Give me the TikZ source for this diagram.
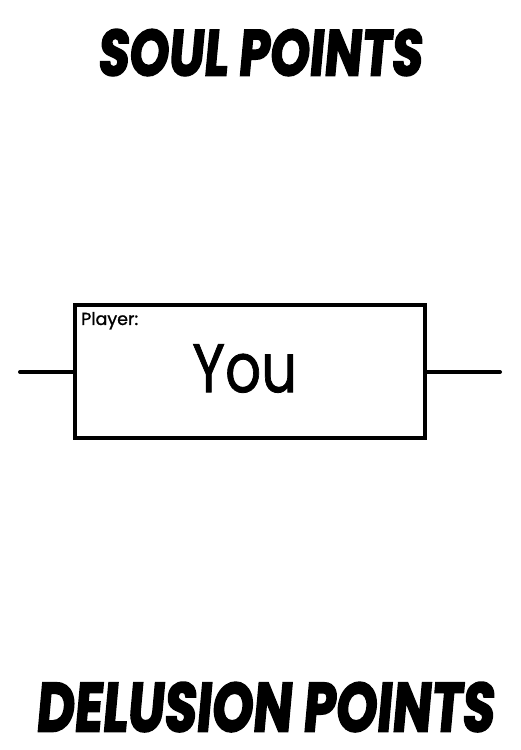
\documentclass[tikz,border=0pt]{standalone}
\usepackage{fontspec}
\setmainfont{Poppins}
\newfontfamily\brush{Poppins}[FakeBold=3,FakeSlant=0.12]
\newfontfamily\comic{Poppins}[FakeBold=1.2]
\begin{document}
\begin{tikzpicture}[x=1pt,y=1pt,
  title/.style={inner sep=0pt,anchor=south west},
  playerbox/.style={draw=black,line width=4pt,minimum width=350pt,minimum height=133pt,inner sep=0pt,fill=white},
  wire/.style={draw=black,line width=4pt,line cap=round},
  label/.style={inner sep=0pt}]
\useasboundingbox (0,0) rectangle (520,750);
\fill[white] (0,0) rectangle (520,750);
% titles
\node[title] (soul) at (97,750-76) {\resizebox{324pt}{46pt}{\brush\bfseries SOUL POINTS}};
\node[title] (delusion) at (35,750-732) {\resizebox{458pt}{49pt}{\brush\bfseries DELUSION POINTS}};
% box
\node[playerbox] (box) at (250,750-372) {};
\coordinate (lend) at (20,750-372);
\coordinate (rend) at (500,750-372);
\draw[wire] (lend) -- (box.west);
\draw[wire] (box.east) -- (rend);
\node[label,anchor=base west] (player) at (81,750-325) {\resizebox{57pt}{!}{\comic Player:}};
\node[label,anchor=south west] (you) at (192,750-393) {\resizebox{105pt}{48pt}{\comic You}};
\end{tikzpicture}
\end{document}
